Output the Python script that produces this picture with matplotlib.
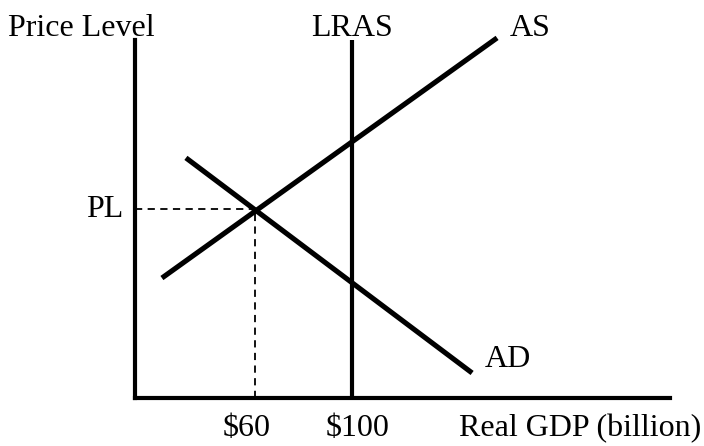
import matplotlib
matplotlib.use("Agg")
import matplotlib.pyplot as plt

plt.rcParams['font.family'] = ['Liberation Serif', 'DejaVu Serif']

# Data (GDP in $ billion, price level in arbitrary units)
as_x = [21.6, 159.8]
as_y = [62.8, 188.5]
ad_x = [31.5, 149.5]
ad_y = [125.7, 13.1]
lras_x = 100
eq_x = 60
eq_pl = 99.0
tick_vals = [60, 100]
tick_labels = ["$60", "$100"]

fig = plt.figure(figsize=(7.04, 4.46), dpi=100)
ax = fig.add_axes([135/704, (446-398)/446, 535/704, 358/446])
ax.set_xlim(10.5, 231.1)
ax.set_ylim(0, 187.4)

for s in ['top', 'right']:
    ax.spines[s].set_visible(False)
for s in ['left', 'bottom']:
    ax.spines[s].set_linewidth(3.0)
    ax.spines[s].set_color('black')
ax.set_xticks([])
ax.set_yticks([])

lw = 3.7
ax.plot(as_x, as_y, color='black', lw=lw, solid_capstyle='butt', clip_on=False)
ax.plot(ad_x, ad_y, color='black', lw=lw, solid_capstyle='butt', clip_on=False)
ax.plot([lras_x, lras_x], [0, 187.4], color='black', lw=3.0, solid_capstyle='butt', clip_on=False)

ax.plot([10.5, eq_x], [eq_pl, eq_pl], color='black', lw=1.3, ls=(0, (4, 3)))
ax.plot([eq_x, eq_x], [0, eq_pl], color='black', lw=1.3, ls=(0, (4, 3)))

fs = 23
top_y = 189.5
ax.text(-41.9, top_y, "Price Level", fontsize=fs, ha='left', va='baseline', clip_on=False)
ax.text(lras_x, top_y, "LRAS", fontsize=fs, ha='center', va='baseline', clip_on=False)
ax.text(165.2, top_y, "AS", fontsize=fs, ha='left', va='baseline', clip_on=False)
ax.text(5.6, 94.5, "PL", fontsize=fs, ha='right', va='baseline', clip_on=False)
ax.text(154.8, 16.2, "AD", fontsize=fs, ha='left', va='baseline', clip_on=False)
offsets = [-6, 4]
for v, l, o in zip(tick_vals, tick_labels, offsets):
    ax.annotate(l, xy=(v, -19.9), xytext=(o, 0), textcoords='offset points',
                fontsize=fs, ha='center', va='baseline', annotation_clip=False)
ax.text(144.0, -19.9, "Real GDP (billion)", fontsize=fs, ha='left', va='baseline', clip_on=False)

fig.savefig("out.png", dpi=100)
